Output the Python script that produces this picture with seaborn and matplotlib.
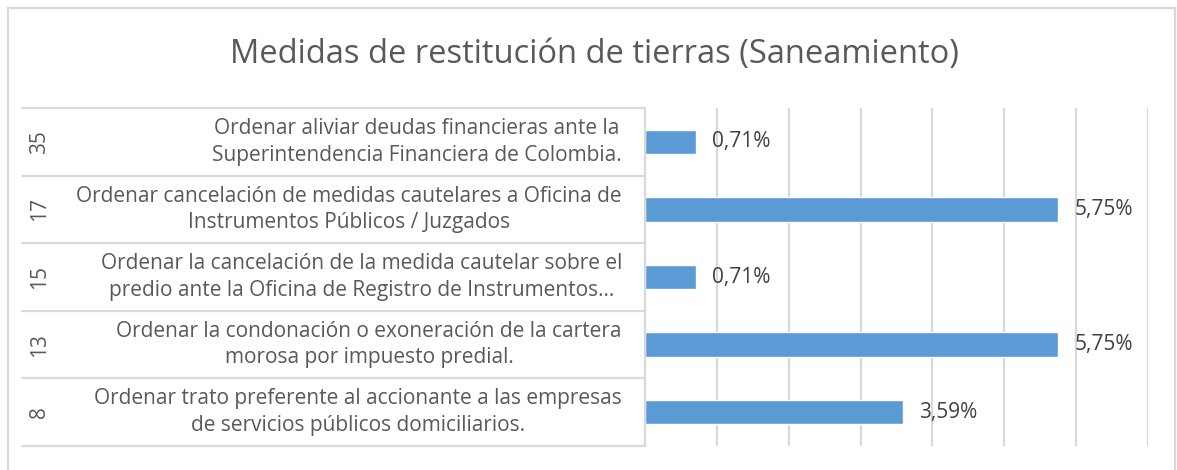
import matplotlib
matplotlib.use("Agg")
import matplotlib.pyplot as plt
import matplotlib.transforms as mtransforms
from matplotlib.patches import Rectangle
import seaborn as sns
import pandas as pd

# ---- data ----
codes = ["35", "17", "15", "13", "8"]
labels = [
    "Ordenar aliviar deudas financieras ante la\nSuperintendencia Financiera de Colombia.",
    "Ordenar cancelación de medidas cautelares a Oficina de\nInstrumentos Públicos / Juzgados",
    "Ordenar la cancelación de la medida cautelar sobre el\npredio ante la Oficina de Registro de Instrumentos…",
    "Ordenar la condonación o exoneración de la cartera\nmorosa por impuesto predial.",
    "Ordenar trato preferente al accionante a las empresas\nde servicios públicos domiciliarios.",
]
values = [0.71, 5.75, 0.71, 5.75, 3.59]
value_labels = ["0,71%", "5,75%", "0,71%", "5,75%", "3,59%"]
title = "Medidas de restitución de tierras (Saneamiento)"

W, H = 1177, 470
sns.set_theme(style="white")
plt.rcParams["font.family"] = ["Open Sans", "DejaVu Sans"]

fig = plt.figure(figsize=(W / 100, H / 100), dpi=100)
ax = fig.add_axes([645 / W, 1 - 446 / H, (1148 - 645) / W, (446 - 108) / H])

df = pd.DataFrame({"cat": codes, "val": values})
sns.barplot(data=df, y="cat", x="val", orient="h", color="#5B9BD5",
            saturation=1, width=0.36, ax=ax, order=codes)

n = len(codes)
ax.set_xlim(0, 7)
ax.set_ylim(n - 0.5, -0.5)
ax.set_xticks(range(1, 8))
ax.set_xticklabels([])
ax.set_yticklabels([])
ax.set_xlabel("")
ax.set_ylabel("")
ax.tick_params(axis="both", length=0)
ax.grid(axis="x", color="#D9D9D9", linewidth=1.6)
ax.set_axisbelow(True)
for s in ["top", "right", "bottom"]:
    ax.spines[s].set_visible(False)
ax.spines["left"].set_color("#D9D9D9")
ax.spines["left"].set_linewidth(1.6)

gray = "#595959"
fs = 15
trans = mtransforms.blended_transform_factory(fig.transFigure, ax.transData)

# value labels
for i, (v, t) in enumerate(zip(values, value_labels)):
    ax.annotate(t, (v, i), xytext=(16, 0), textcoords="offset pixels",
                ha="left", va="center", fontsize=fs, color="#404040")

# category table
for b in range(n + 1):
    yb = b - 0.5
    ax.plot([22 / W, 645 / W], [yb, yb], transform=trans, color="#D9D9D9",
            linewidth=1.6, clip_on=False)
for i, (c, lab) in enumerate(zip(codes, labels)):
    ax.text(40 / W, i, c, transform=trans, rotation=90, ha="center", va="center",
            fontsize=fs, color=gray)
    ax.text(622 / W, i, lab, transform=trans, ha="right", va="center",
            multialignment="center", fontsize=fs, color=gray, linespacing=1.35)

# title
fig.text(594 / W, 1 - 54 / H, title, ha="center", va="center", fontsize=23.5,
         color=gray)

# outer border
fig.patches.append(Rectangle((8 / W, -0.05), (1175 - 8) / W, 1.05 - 8 / H,
                             transform=fig.transFigure, fill=False,
                             edgecolor="#D9D9D9", linewidth=1.6))

fig.savefig("out.png", dpi=100)
